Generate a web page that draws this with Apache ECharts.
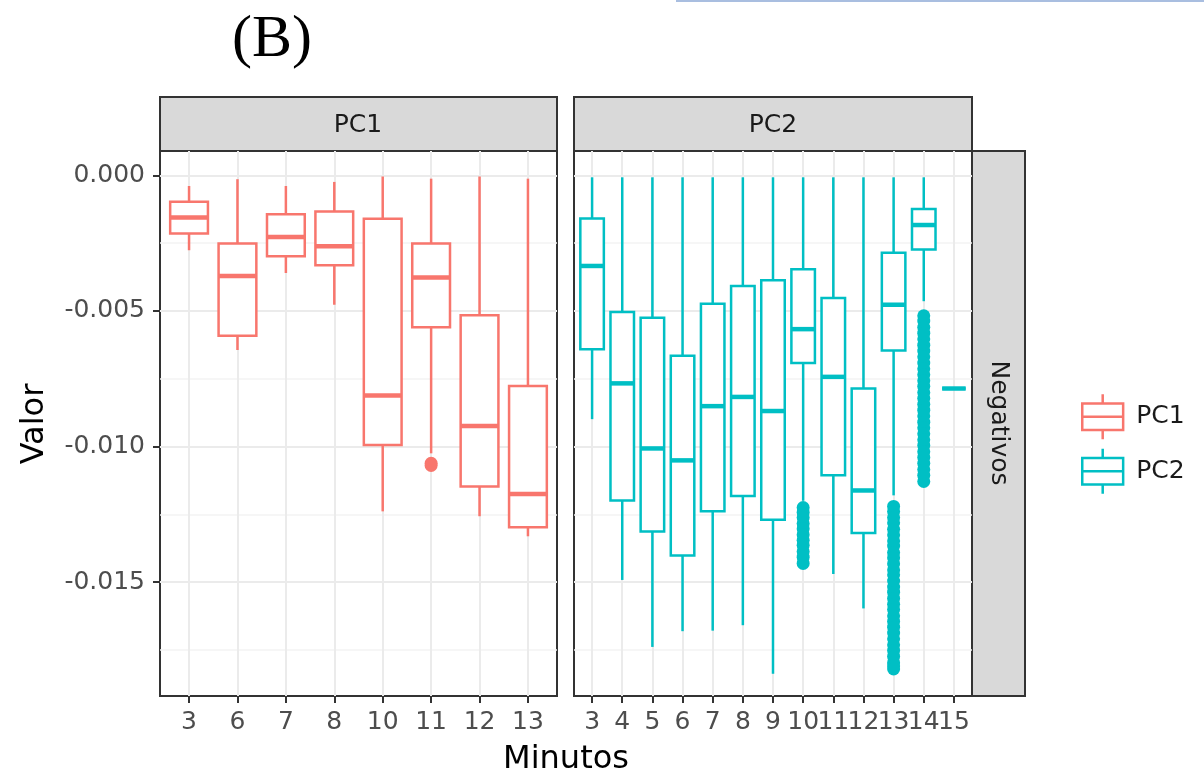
<!DOCTYPE html>
<html>
<head>
<meta charset="utf-8">
<script src="https://cdn.jsdelivr.net/npm/echarts@6/dist/echarts.min.js"></script>
<style>
  html, body { margin: 0; padding: 0; background: #fff; }
  #main { width: 1204px; height: 777px; }
</style>
</head>
<body>
<div id="main"></div>
<script>
// minutes on each facet
var pc1Minutes = ['3', '6', '7', '8', '10', '11', '12', '13'];
var pc2Minutes = ['3', '4', '5', '6', '7', '8', '9', '10', '11', '12', '13', '14', '15'];

// PC1 box stats
var pc1Min    = [-0.00276, -0.00644, -0.00360, -0.00477, -0.01239, -0.01025, -0.01257, -0.01331];
var pc1Q1     = [-0.00214, -0.00591, -0.00298, -0.00331, -0.00994, -0.00560, -0.01147, -0.01298];
var pc1Median = [-0.00155, -0.00371, -0.00227, -0.00261, -0.00812, -0.00377, -0.00924, -0.01175];
var pc1Q3     = [-0.00097, -0.00251, -0.00143, -0.00133, -0.00160, -0.00251, -0.00516, -0.00777];
var pc1Max    = [-0.00039, -0.00014, -0.00039, -0.00024, -0.00004, -0.00012, -0.00004, -0.00012];

// PC2 box stats
var pc2Min    = [-0.00899, -0.01492, -0.01739, -0.01681, -0.01679, -0.01659, -0.01838, -0.01200, -0.01470, -0.01597, -0.01180, -0.00464, -0.00786];
var pc2Q1     = [-0.00641, -0.01199, -0.01313, -0.01402, -0.01239, -0.01182, -0.01270, -0.00692, -0.01106, -0.01319, -0.00646, -0.00273, -0.00786];
var pc2Median = [-0.00334, -0.00767, -0.01007, -0.01051, -0.00851, -0.00817, -0.00869, -0.00567, -0.00743, -0.01162, -0.00477, -0.00183, -0.00786];
var pc2Q3     = [-0.00159, -0.00504, -0.00525, -0.00665, -0.00473, -0.00408, -0.00387, -0.00346, -0.00452, -0.00786, -0.00285, -0.00124, -0.00786];
var pc2Max    = [-0.00007, -0.00007, -0.00007, -0.00007, -0.00007, -0.00007, -0.00007, -0.00007, -0.00007, -0.00007, -0.00007, -0.00007, -0.00786];

// outliers
var pc1Out11 = [-0.01062, -0.01070];
var pc2Out10 = [-0.01225, -0.01243, -0.01262, -0.01284, -0.01303, -0.01325, -0.01346, -0.01364, -0.01387, -0.01408, -0.01431];
var pc2Out13 = [-0.01221, -0.01240, -0.01262, -0.01281, -0.01305, -0.01326, -0.01348, -0.01367, -0.01391, -0.01410,
                -0.01432, -0.01455, -0.01473, -0.01496, -0.01518, -0.01537, -0.01560, -0.01582, -0.01601, -0.01624,
                -0.01645, -0.01666, -0.01688, -0.01709, -0.01731, -0.01752, -0.01774, -0.01797, -0.01809, -0.01820];
var pc2Out14 = [-0.00518, -0.00537, -0.00560, -0.00582, -0.00603, -0.00626, -0.00648, -0.00669, -0.00692, -0.00713,
                -0.00735, -0.00757, -0.00778, -0.00801, -0.00822, -0.00844, -0.00866, -0.00887, -0.00910, -0.00931,
                -0.00953, -0.00975, -0.00996, -0.01019, -0.01040, -0.01062, -0.01085, -0.01106, -0.01129];

// y ticks
var yTicks = [0, -0.005, -0.010, -0.015];
var yMinor = [-0.0025, -0.0075, -0.0125, -0.0175];

var red = '#F8766D';
var teal = '#00BFC4';
var font = 'DejaVu Sans';

function boxRows(mn, q1, md, q3, mx) {
    return mn.map(function (v, i) { return [i, mn[i], q1[i], md[i], q3[i], mx[i]]; });
}
function outRows(cats, minute, vals) {
    var idx = cats.indexOf(minute);
    return vals.map(function (v) { return [idx, v]; });
}

function boxItem(color) {
    return function (params, api) {
        var x = api.value(0);
        var lo = api.coord([x, api.value(1)]);
        var q1 = api.coord([x, api.value(2)]);
        var md = api.coord([x, api.value(3)]);
        var q3 = api.coord([x, api.value(4)]);
        var hi = api.coord([x, api.value(5)]);
        var left = api.coord([x - 0.39, api.value(3)])[0];
        var right = api.coord([x + 0.39, api.value(3)])[0];
        var ls = { stroke: color, lineWidth: 2.5 };
        return {
            type: 'group',
            children: [
                { type: 'line', shape: { x1: hi[0], y1: hi[1], x2: q3[0], y2: q3[1] }, style: ls },
                { type: 'line', shape: { x1: q1[0], y1: q1[1], x2: lo[0], y2: lo[1] }, style: ls },
                { type: 'rect', shape: { x: left, y: q3[1], width: right - left, height: q1[1] - q3[1] },
                  style: { fill: '#fff', stroke: color, lineWidth: 2.5 } },
                { type: 'line', shape: { x1: left, y1: md[1], x2: right, y2: md[1] },
                  style: { stroke: color, lineWidth: 4.5 } }
            ]
        };
    };
}

// labels split over two stacked axes (parity) so the crowded ones are not dropped
function xAxisFor(grid, cats, parity, main) {
    var idx = cats.map(function (c, i) { return i; });
    var labelIdx = parity === null ? idx : idx.filter(function (i) { return i % 2 === parity; });
    return {
        type: 'value', gridIndex: grid, min: -0.6, max: cats.length - 0.4, position: 'bottom',
        axisLine: { show: false, onZero: false },
        axisTick: { show: main, customValues: idx, length: 7, lineStyle: { color: '#333', width: 2 } },
        axisLabel: {
            customValues: labelIdx, margin: 14, fontSize: 25, color: '#4D4D4D', fontFamily: font,
            showMinLabel: true, showMaxLabel: true, hideOverlap: false,
            formatter: function (v) { return cats[Math.round(v)]; }
        },
        splitLine: { show: main, lineStyle: { color: '#EBEBEB', width: 2 } },
        minorSplitLine: { show: false }
    };
}

function yAxisFor(grid, major, showLabels) {
    var vals = major ? yTicks : yMinor;
    return {
        type: 'value', gridIndex: grid, min: -0.0192, max: 0.0009,
        axisLine: { show: false, onZero: false },
        axisTick: { show: major && showLabels, customValues: vals, length: 7, lineStyle: { color: '#333', width: 2 } },
        axisLabel: {
            show: major && showLabels, customValues: vals, margin: 15, fontSize: 25,
            color: '#4D4D4D', fontFamily: font,
            formatter: function (v) { return v.toFixed(3); }
        },
        splitLine: { show: true, lineStyle: { color: major ? '#EBEBEB' : '#F3F3F3', width: major ? 2 : 1.5 } }
    };
}

var myChart = echarts.init(document.getElementById('main'));

var boxIcon = 'path://M20,0L20,9M0,9L40,9L40,35L0,35ZM0,22L40,22M20,35L20,44';
var stripStyle = { fill: '#D9D9D9', stroke: '#333', lineWidth: 2 };
var stripText = { fontSize: 25, fontFamily: font, fill: '#1A1A1A', align: 'center', verticalAlign: 'middle',
                  textAlign: 'center', textVerticalAlign: 'middle' };

var option = {
    animation: false,
    backgroundColor: '#fff',
    grid: [
        { left: 160, top: 151, width: 397, height: 545, show: true, backgroundColor: '#fff', borderColor: '#333', borderWidth: 2 },
        { left: 574, top: 151, width: 398, height: 545, show: true, backgroundColor: '#fff', borderColor: '#333', borderWidth: 2 }
    ],
    xAxis: [
        xAxisFor(0, pc1Minutes, null, true),
        xAxisFor(1, pc2Minutes, 0, true),
        xAxisFor(1, pc2Minutes, 1, false)
    ],
    yAxis: [yAxisFor(0, true, true), yAxisFor(0, false, false), yAxisFor(1, true, false), yAxisFor(1, false, false)],
    legend: {
        orient: 'vertical', left: 1076, top: 388,
        itemWidth: 41, itemHeight: 45, itemGap: 7,
        itemStyle: { color: '#fff', borderColor: 'auto', borderWidth: 2.5 },
        textStyle: { fontSize: 25, fontFamily: font, color: '#1A1A1A', padding: [0, 0, 0, 8] },
        data: [{ name: 'PC1', icon: boxIcon }, { name: 'PC2', icon: boxIcon }]
    },
    series: [
        {
            name: 'PC1', type: 'scatter', xAxisIndex: 0, yAxisIndex: 0,
            symbolSize: 13, itemStyle: { color: red, opacity: 1 },
            data: outRows(pc1Minutes, '11', pc1Out11)
        },
        {
            name: 'PC1', type: 'custom', xAxisIndex: 0, yAxisIndex: 0,
            itemStyle: { color: red },
            renderItem: boxItem(red),
            encode: { x: 0, y: [1, 2, 3, 4, 5] },
            data: boxRows(pc1Min, pc1Q1, pc1Median, pc1Q3, pc1Max)
        },
        {
            name: 'PC2', type: 'scatter', xAxisIndex: 1, yAxisIndex: 2,
            symbolSize: 13, itemStyle: { color: teal, opacity: 1 },
            data: outRows(pc2Minutes, '10', pc2Out10)
                .concat(outRows(pc2Minutes, '13', pc2Out13))
                .concat(outRows(pc2Minutes, '14', pc2Out14))
        },
        {
            name: 'PC2', type: 'custom', xAxisIndex: 1, yAxisIndex: 2,
            itemStyle: { color: teal },
            renderItem: boxItem(teal),
            encode: { x: 0, y: [1, 2, 3, 4, 5] },
            data: boxRows(pc2Min, pc2Q1, pc2Median, pc2Q3, pc2Max)
        }
    ],
    graphic: [
        { type: 'line', shape: { x1: 676, y1: 1, x2: 1204, y2: 1 }, style: { stroke: '#A9BEE0', lineWidth: 2 } },
        { type: 'text', x: 272, y: 40, style: { text: '(B)', fontSize: 60, fontFamily: 'Liberation Serif', fill: '#000',
            align: 'center', verticalAlign: 'middle', textAlign: 'center', textVerticalAlign: 'middle' } },
        { type: 'rect', shape: { x: 160, y: 97, width: 397, height: 54 }, style: stripStyle },
        { type: 'rect', shape: { x: 574, y: 97, width: 398, height: 54 }, style: stripStyle },
        { type: 'rect', shape: { x: 972, y: 151, width: 53, height: 545 }, style: stripStyle },
        { type: 'text', x: 358, y: 125, style: Object.assign({ text: 'PC1' }, stripText) },
        { type: 'text', x: 773, y: 125, style: Object.assign({ text: 'PC2' }, stripText) },
        { type: 'text', x: 998, y: 423, rotation: -Math.PI / 2, style: Object.assign({ text: 'Negativos' }, stripText) },
        { type: 'text', x: 35, y: 424, rotation: Math.PI / 2, style: { text: 'Valor', fontSize: 32, fontFamily: font, fill: '#000',
            align: 'center', verticalAlign: 'middle', textAlign: 'center', textVerticalAlign: 'middle' } },
        { type: 'text', x: 566, y: 760, style: { text: 'Minutos', fontSize: 32, fontFamily: font, fill: '#000',
            align: 'center', verticalAlign: 'middle', textAlign: 'center', textVerticalAlign: 'middle' } }
    ]
};

myChart.setOption(option);
</script>
</body>
</html>
